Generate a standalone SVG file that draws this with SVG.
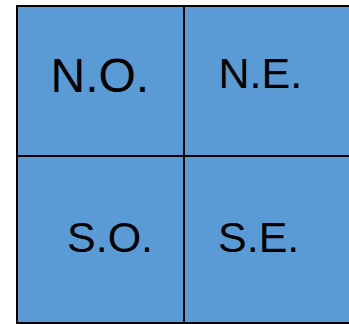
<svg xmlns="http://www.w3.org/2000/svg" width="349" height="324" viewBox="0 0 349 324">
<style>
.cell{fill:#5B9BD5;stroke:#000;stroke-width:2}
.lbl{font-family:"Liberation Sans",Arial,sans-serif;fill:#000}
</style>
<rect width="349" height="324" fill="#fff"/>
<g id="NO"><rect class="cell" x="17" y="6" width="167" height="150"/><text class="lbl" x="50.5" y="92" font-size="48">N.O.</text></g>
<g id="NE"><rect class="cell" x="184" y="6" width="167" height="150"/><text class="lbl" x="218.5" y="87.5" font-size="43">N.E.</text></g>
<g id="SO"><rect class="cell" x="17" y="156" width="167" height="167"/><text class="lbl" x="67" y="252" font-size="43">S.O.</text></g>
<g id="SE"><rect class="cell" x="184" y="156" width="167" height="167"/><text class="lbl" x="218" y="252" font-size="43">S.E.</text></g>
<g id="connectors"></g>
</svg>
